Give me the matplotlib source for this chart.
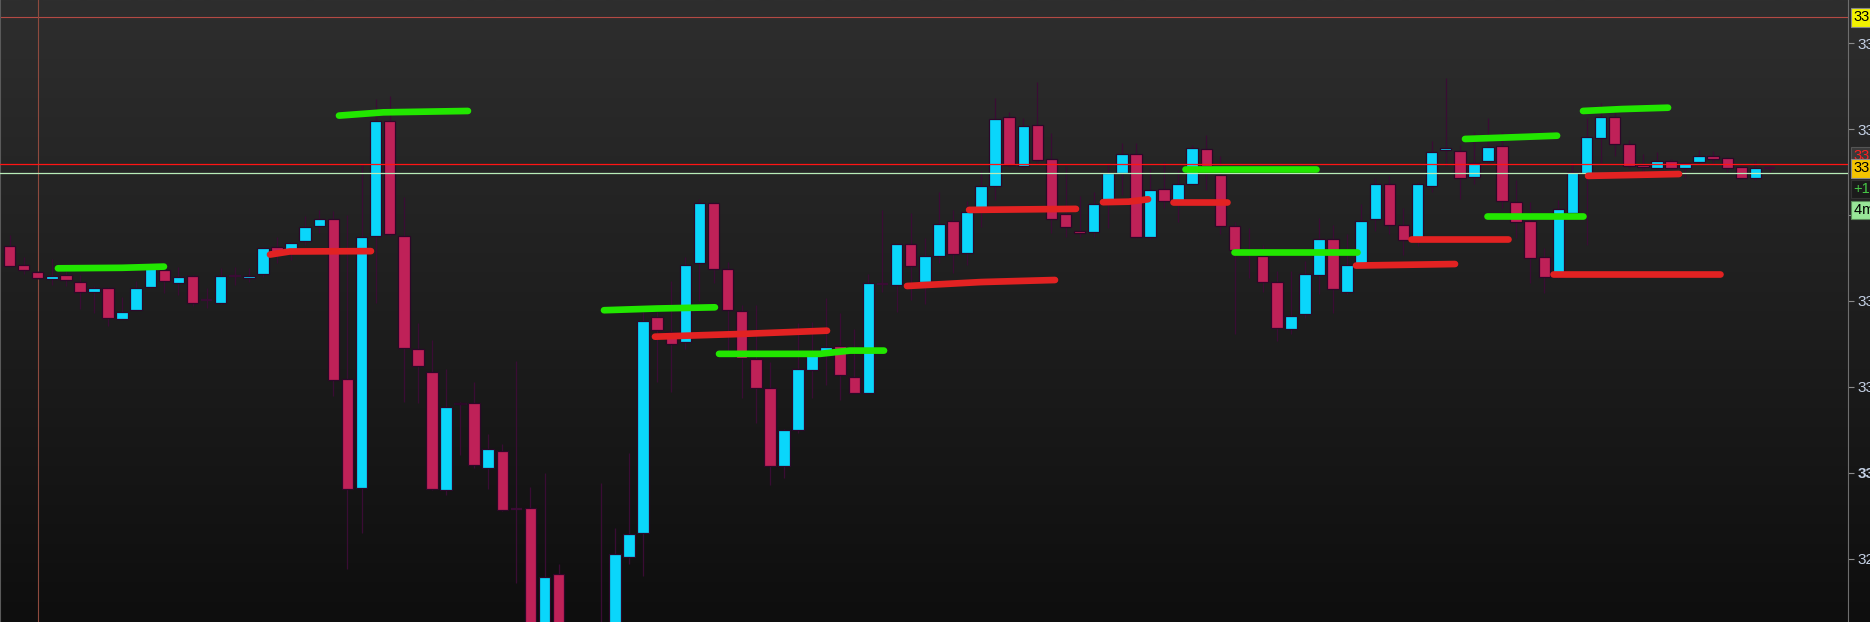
import numpy as np
import matplotlib.pyplot as plt
from matplotlib.colors import LinearSegmentedColormap
from matplotlib.transforms import blended_transform_factory

# 4-minute candles, oldest first
opens = [3313.17, 3312.12, 3311.70, 3311.28, 3311.53, 3311.12, 3310.51, 3310.74, 3308.95, 3309.48,
         3310.80, 3311.79, 3311.05, 3311.47, 3310.04, 3309.90, 3311.45, 3311.32, 3311.55, 3313.16,
         3312.93, 3313.47, 3314.35, 3314.77, 3305.45, 3299.10, 3313.77, 3320.46, 3313.77, 3307.19,
         3305.88, 3299.00, 3304.00, 3304.04, 3300.26, 3301.29, 3297.89, 3297.97, 3290.50, 3294.08,
         3289.75, 3289.00, 3290.25, 3290.75, 3295.10, 3296.51, 3309.09, 3308.19, 3307.61, 3312.21,
         3315.72, 3311.88, 3309.44, 3306.63, 3304.95, 3300.39, 3302.49, 3305.98, 3306.96, 3307.39,
         3305.59, 3304.66, 3310.99, 3310.93, 3313.30, 3311.09, 3312.62, 3314.67, 3312.78, 3315.43,
         3316.69, 3320.69, 3317.86, 3320.23, 3318.25, 3315.05, 3314.09, 3314.00, 3315.85, 3317.43,
         3318.54, 3313.74, 3316.50, 3315.78, 3316.79, 3318.86, 3317.36, 3314.39, 3312.87, 3312.64,
         3311.13, 3308.36, 3309.24, 3311.50, 3313.62, 3310.50, 3312.16, 3314.77, 3316.82, 3314.45,
         3313.68, 3316.68, 3318.79, 3318.75, 3317.22, 3318.15, 3319.00, 3315.76, 3314.66, 3312.54,
         3311.41, 3315.10, 3317.43, 3319.47, 3320.69, 3319.12, 3317.90, 3317.72, 3318.17, 3317.72,
         3318.07, 3318.42, 3318.31, 3317.78, 3317.14, 3317.72]
highs = [3313.83, 3312.56, 3311.75, 3312.43, 3311.75, 3311.50, 3310.87, 3310.80, 3310.21, 3311.18,
         3312.23, 3312.19, 3311.96, 3311.50, 3310.77, 3311.90, 3311.96, 3311.90, 3313.16, 3313.71,
         3313.42, 3314.95, 3315.30, 3315.22, 3315.01, 3318.01, 3321.76, 3321.93, 3316.07, 3308.70,
         3307.73, 3306.02, 3304.10, 3305.30, 3302.26, 3301.68, 3306.49, 3299.17, 3300.00, 3294.70,
         3291.00, 3291.00, 3299.38, 3296.79, 3301.15, 3309.36, 3309.38, 3311.16, 3312.54, 3315.92,
         3315.78, 3312.25, 3309.77, 3309.77, 3306.47, 3302.55, 3308.72, 3308.78, 3310.17, 3309.28,
         3308.37, 3311.57, 3315.30, 3313.32, 3315.10, 3313.68, 3316.36, 3315.30, 3315.84, 3317.57,
         3321.83, 3321.02, 3320.63, 3322.75, 3319.80, 3317.86, 3316.11, 3316.34, 3318.01, 3319.18,
         3319.18, 3317.72, 3318.11, 3317.62, 3319.08, 3319.65, 3318.46, 3314.62, 3314.25, 3313.25,
         3311.75, 3311.75, 3312.31, 3314.82, 3314.41, 3313.87, 3315.64, 3317.15, 3317.26, 3315.39,
         3316.95, 3319.30, 3322.97, 3319.09, 3319.81, 3320.65, 3319.81, 3317.04, 3315.78, 3313.07,
         3315.88, 3318.07, 3320.63, 3321.51, 3321.02, 3319.37, 3318.56, 3318.69, 3318.26, 3318.07,
         3318.79, 3318.75, 3318.38, 3317.86, 3318.21, 3317.88]
lows = [3311.98, 3311.54, 3311.28, 3310.93, 3310.87, 3309.52, 3309.32, 3308.56, 3308.93, 3309.46,
        3310.78, 3310.45, 3310.35, 3309.71, 3309.57, 3309.82, 3310.93, 3311.12, 3311.41, 3312.19,
        3312.39, 3313.26, 3313.94, 3304.48, 3294.39, 3296.48, 3309.90, 3313.78, 3304.14, 3304.08,
        3299.02, 3298.71, 3301.03, 3300.26, 3299.04, 3297.79, 3293.60, 3289.68, 3290.00, 3289.50,
        3288.25, 3287.50, 3288.00, 3290.25, 3294.70, 3293.97, 3305.30, 3304.72, 3307.19, 3310.02,
        3311.06, 3307.07, 3304.37, 3302.87, 3299.29, 3299.70, 3302.29, 3304.35, 3305.11, 3304.24,
        3304.64, 3304.64, 3310.54, 3309.36, 3310.06, 3309.81, 3312.19, 3311.61, 3312.09, 3314.32,
        3315.88, 3317.82, 3317.74, 3318.01, 3313.94, 3313.71, 3313.71, 3313.74, 3314.25, 3316.17,
        3313.67, 3313.59, 3315.40, 3314.62, 3316.75, 3316.43, 3313.87, 3308.05, 3311.34, 3310.55,
        3307.64, 3308.05, 3309.03, 3310.40, 3309.29, 3310.40, 3312.09, 3314.10, 3313.87, 3312.68,
        3313.17, 3316.32, 3317.84, 3315.95, 3316.78, 3318.03, 3315.43, 3313.65, 3311.06, 3310.45,
        3311.32, 3315.08, 3313.26, 3318.01, 3318.44, 3317.76, 3317.53, 3317.70, 3317.74, 3317.14,
        3318.05, 3318.05, 3317.47, 3317.12, 3317.04, 3317.53]
closes = [3312.02, 3311.81, 3311.32, 3311.45, 3311.20, 3310.51, 3310.77, 3308.99, 3309.38, 3310.77,
          3311.96, 3311.15, 3311.41, 3309.90, 3310.04, 3311.47, 3311.45, 3311.47, 3313.10, 3312.87,
          3313.39, 3314.32, 3314.79, 3305.41, 3299.03, 3313.74, 3320.49, 3313.88, 3307.25, 3306.23,
          3299.04, 3303.81, 3304.08, 3300.44, 3301.37, 3297.83, 3297.89, 3290.27, 3293.91, 3290.00,
          3288.75, 3290.50, 3290.75, 3295.27, 3296.43, 3308.86, 3308.31, 3307.50, 3312.11, 3315.72,
          3311.84, 3309.48, 3306.66, 3304.95, 3300.39, 3302.51, 3306.02, 3306.96, 3307.34, 3305.69,
          3304.66, 3311.06, 3310.99, 3313.29, 3312.05, 3312.64, 3314.46, 3312.74, 3315.16, 3316.71,
          3320.61, 3317.92, 3320.17, 3318.21, 3314.76, 3314.29, 3313.94, 3315.63, 3317.43, 3318.54,
          3313.74, 3316.46, 3315.84, 3316.79, 3318.89, 3317.86, 3314.35, 3312.96, 3312.87, 3311.08,
          3308.43, 3309.13, 3311.54, 3313.58, 3310.69, 3312.12, 3314.68, 3316.82, 3314.41, 3313.54,
          3316.82, 3318.70, 3318.88, 3317.14, 3318.03, 3318.99, 3315.79, 3314.58, 3312.48, 3311.41,
          3315.34, 3317.49, 3319.56, 3320.69, 3319.12, 3317.86, 3317.80, 3318.17, 3317.76, 3318.05,
          3318.42, 3318.25, 3317.72, 3317.14, 3317.72, 3317.72]

# hand-drawn levels: (bar positions, prices)
green_marks = [
    ([3.44, 8.0, 10.97], [3311.90, 3311.93, 3312.00]),
    ([23.40, 26.55, 32.56], [3320.79, 3320.98, 3321.06]),
    ([42.22, 46.0, 50.10], [3309.46, 3309.56, 3309.63]),
    ([50.39, 57.56, 59.69, 62.11], [3306.92, 3306.92, 3307.11, 3307.11]),
    ([83.49, 92.79], [3317.67, 3317.67]),
    ([86.97, 95.70], [3312.87, 3312.87]),
    ([103.37, 106.5, 109.91], [3319.43, 3319.52, 3319.62]),
    ([104.94, 111.75], [3314.95, 3314.95]),
    ([111.75, 114.5, 117.79], [3321.06, 3321.17, 3321.25]),
]
red_marks = [
    ([18.50, 19.9, 25.67], [3312.70, 3312.88, 3312.90]),
    ([45.84, 52.0, 58.06], [3307.92, 3308.08, 3308.27]),
    ([63.74, 69.0, 74.25], [3310.87, 3311.10, 3311.22]),
    ([68.15, 75.74], [3315.30, 3315.36]),
    ([77.66, 79.5, 80.86], [3315.75, 3315.78, 3315.92]),
    ([82.64, 86.47], [3315.78, 3315.78]),
    ([95.63, 102.66], [3312.06, 3312.15]),
    ([99.53, 106.43], [3313.59, 3313.59]),
    ([109.62, 121.49], [3311.57, 3311.57]),
    ([112.11, 118.57], [3317.28, 3317.39]),
]

top_level = 3326.51
red_level = 3317.96
last_level = 3317.43
marker_bar = 2
price_ticks = [3295, 3300, 3305, 3310, 3315, 3320, 3325]
hidden_tick = 3315  # sits under the timer flag

o = np.array(opens)
h = np.array(highs)
l = np.array(lows)
c = np.array(closes)
x = np.arange(len(o))

fig = plt.figure(figsize=(18.7, 6.22), dpi=100)

# dark vertical gradient background
bg = fig.add_axes([0, 0, 1, 1])
grad = np.linspace(1, 0, 256).reshape(-1, 1)
cmap = LinearSegmentedColormap.from_list('bg', ['#0e0e0e', '#2e2e2e'])
bg.imshow(grad, aspect='auto', cmap=cmap, extent=[0, 1, 0, 1])
bg.axis('off')

ax = fig.add_axes([0, 0, 1848 / 1870, 1])
ax.set_facecolor('none')
ax.set_xlim(-0.675, 130.57)
ax.set_ylim(3291.31, 3327.52)

# reference lines
ax.axhline(top_level, color='#b44a44', lw=0.8, zorder=1)
ax.axvline(marker_bar, color='#8e4a3e', lw=0.8, zorder=1)

# candles
up = c > o
doji = np.isclose(o, c, atol=0.02)
ax.vlines(x, l, h, color='#3a0c34', lw=0.9, zorder=2)
body_lo = np.minimum(o, c)
body_h = np.maximum(np.abs(c - o), 0.06)
cols = np.where(up, '#0ad6fb', '#bf2158')
ax.bar(x[~doji], body_h[~doji], bottom=body_lo[~doji], width=0.82,
       color=cols[~doji], edgecolor='#2c0828', linewidth=0.9, zorder=3)
ax.hlines(o[doji], x[doji] - 0.41, x[doji] + 0.41, color='#3a0c34', lw=1.6, zorder=3)

ax.axhline(red_level, color='#ff1414', lw=0.9, zorder=4)
ax.axhline(last_level, color='#b8ecb8', lw=0.9, zorder=4)

for xs, ps in green_marks:
    ax.plot(xs, ps, color='#22e600', lw=4.8, solid_capstyle='round', zorder=5)
for xs, ps in red_marks:
    ax.plot(xs, ps, color='#e22222', lw=4.8, solid_capstyle='round', zorder=5)

# right price axis (labels run off the canvas edge)
ax.yaxis.tick_right()
ax.set_yticks(price_ticks)
ax.set_yticklabels(['' if p == hidden_tick else f'{p:.2f}' for p in price_ticks],
                   family='Liberation Sans')
ax.tick_params(axis='y', length=4, width=0.8, color='#8a8a8a', labelcolor='#c4d0e4',
               labelsize=11, pad=3)
for lab in ax.get_yticklabels():
    if lab.get_text().startswith('3300'):
        lab.set_fontweight('bold')
ax.set_xticks([])
for side in ['top', 'bottom']:
    ax.spines[side].set_visible(False)
ax.spines['right'].set_color('#6e6e6e')
ax.spines['left'].set_color('#5a5a5a')
ax.spines['left'].set_linewidth(1.5)

# price flags at the axis
tr = blended_transform_factory(ax.transAxes, ax.transData)
flags = [
    (top_level, f'{top_level:.2f}', '#f2f200', '#000000', '#888888'),
    (3318.45, f'{red_level:.2f}', '#3a3a3a', '#ff2020', '#555555'),
    (3317.72, f'{closes[-1]:.2f}', '#f4c400', '#000000', '#888888'),
    (3316.50, '+1.25', '#1b1b1b', '#46c846', '#333333'),
    (3315.30, '4m 00s', '#98e698', '#000000', '#5a8a5a'),
]
for p, txt, fc, tc, ec in flags:
    ax.text(1.003, p, txt, transform=tr, ha='left', va='center', fontsize=10.5,
            family='Liberation Sans', color=tc, zorder=10, clip_on=False,
            bbox=dict(boxstyle='square,pad=0.15', fc=fc, ec=ec, lw=0.8))

fig.savefig('out.png', dpi=100)
